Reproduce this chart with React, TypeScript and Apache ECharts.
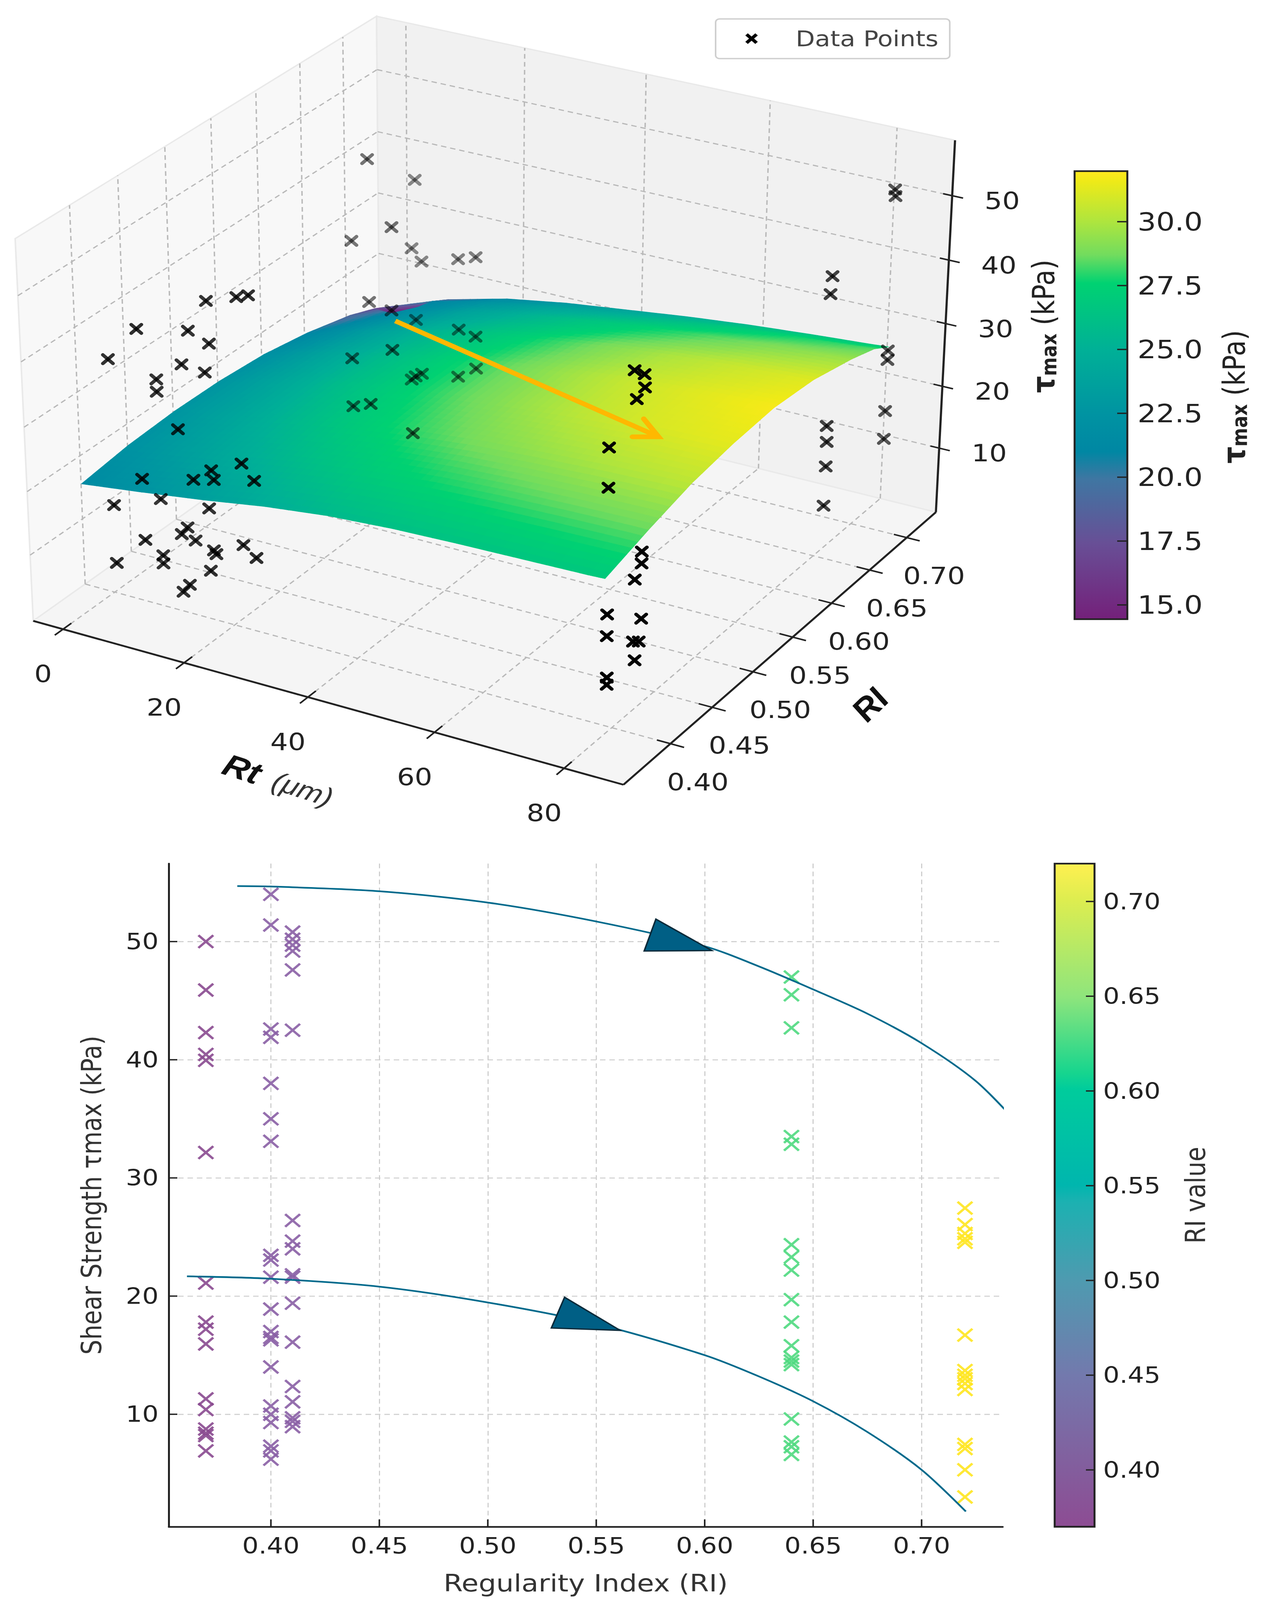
import React, { useEffect, useRef } from "react";
import * as echarts from "echarts";

const FONT = "DejaVu Sans";
const tau37 = [50.0,45.9,42.3,40.45,39.95,32.15,21.1,17.8,17.2,15.95,11.3,10.4,8.75,8.4,8.2,6.9];
const tau40 = [54.0,51.4,42.6,41.9,38.0,35.0,33.1,23.45,23.05,21.6,18.9,17.0,16.5,16.3,14.0,10.7,10.0,9.3,7.3,6.9,6.2];
const tau41 = [50.8,50.2,49.7,49.2,47.6,42.5,26.4,24.65,24.0,21.8,21.6,19.4,16.1,12.35,11.05,9.7,9.4,8.95];
const tau64 = [47.0,45.5,42.7,33.5,32.85,24.35,23.3,22.2,19.7,17.8,15.8,14.8,14.5,14.2,9.6,7.65,7.25,6.6];
const tau72 = [27.45,26.05,25.3,24.85,24.55,16.7,13.7,13.3,13.0,12.6,12.1,7.45,7.1,5.3,3.0];
const upperCurve = [[0.3845,54.7],[0.40,54.66],[0.45,54.26],[0.50,53.3],[0.55,51.7],[0.60,49.6],[0.625,47.9],[0.65,45.95],[0.675,43.9],[0.70,41.4],[0.725,38.2],[0.7434,34.8]];
const lowerCurve = [[0.3613,21.67],[0.40,21.47],[0.45,20.8],[0.50,19.46],[0.55,17.65],[0.60,15.0],[0.625,13.2],[0.65,11.1],[0.675,8.5],[0.70,5.3],[0.7204,1.77]];
const arrowHeads = [[0.5775,51.9,0.5721,49.2,0.6033,49.24],[0.5354,19.9,0.5293,17.3,0.561,17.1]];
const riTicks = [0.40,0.45,0.50,0.55,0.60,0.65,0.70];
const shearTicks = [10,20,30,40,50];
const rtTicks = [0,20,40,60,80];
const tauBarTicks = [15,17.5,20,22.5,25,27.5,30];

// Data points of the 3D panel: [Rt, tau] per RI level
const pts37 = [[10.0,46.1],[5.2,40.4],[10.1,23.2],[5.3,17.9],[10.3,13.7],[5.4,8.8],[82.8,45.9],[82.8,40.0],[82.9,21.1],[82.9,17.8],[83.0,11.5],[83.0,10.4]];
const pts40 = [[13.6,43.8],[12.4,38.4],[8.2,35.1],[8.2,33.2],[11.5,28.2],[13.8,20.9],[8.3,16.5],[12.6,13.1],[11.6,11.8],[8.4,7.6],[8.4,6.3],[12.7,4.0],[11.6,2.6],[82.5,54.1],[82.9,50.0],[83.1,23.2],[83.0,13.7],[83.3,10.9]];
const pts41 = [[15.1,47.7],[20.0,49.4],[21.9,50.1],[15.4,41.3],[14.6,36.7],[15.2,21.7],[15.6,20.3],[20.2,24.0],[22.2,21.8],[14.7,15.6],[12.3,9.9],[15.3,9.1],[15.7,8.6],[20.2,11.2],[22.3,9.7],[14.7,5.7],[82.7,52.6],[82.8,50.7],[82.8,26.3],[82.8,24.5],[82.9,16.1],[82.6,12.5]];
const pts64 = [[7.6,47.0],[11.6,37.1],[4.8,33.4],[7.7,24.2],[11.5,23.7],[11.6,17.3],[4.7,14.3],[4.8,6.4],[7.8,7.5],[15.0,4.4],[82.5,45.3],[82.3,42.5],[82.5,22.0],[82.6,19.5],[82.6,15.6],[82.5,9.3]];
const pts72 = [[4.2,35.9],[3.6,24.6],[5.3,22.8],[11.6,24.6],[14.6,25.6],[4.3,12.9],[11.7,13.0],[14.6,12.5],[14.7,7.2],[11.6,5.1],[5.3,4.1],[4.2,3.4],[3.5,2.7],[82.4,51.3],[82.5,50.3],[82.4,26.1],[82.4,24.6],[82.4,16.4],[82.4,11.9]];

// Fitted surface: rows Rt, columns RI
const rtGrid = [0,10,20,30,40,50,60,70,80,82.5];
const riGrid = [0.37,0.42,0.47,0.52,0.57,0.62,0.67,0.70,0.72];
const surfaceTau = [
 [19.9,20.9,21.3,21.2,20.6,19.3,17.4,15.7,13.1],
 [21.1,22.4,23.0,23.2,22.9,22.0,20.4,19.2,17.6],
 [22.4,24.0,24.9,25.3,25.1,24.3,22.7,21.3,20.0],
 [23.9,25.5,26.6,27.0,26.9,26.1,24.4,22.9,21.6],
 [25.0,26.7,27.9,28.4,28.4,27.6,25.9,24.1,22.8],
 [25.6,27.5,28.9,29.5,29.6,28.9,27.1,25.3,24.0],
 [25.9,28.0,29.5,30.4,30.6,29.9,28.1,26.5,25.0],
 [26.1,28.3,30.0,31.0,31.2,30.6,28.9,27.4,25.8],
 [26.3,28.5,30.3,31.3,31.7,31.1,29.5,28.1,26.5],
 [26.4,28.5,30.3,31.3,31.8,31.2,29.6,28.3,26.7],
];
const RANGE = { x:[-5,89], y:[0.345,0.74], z:[-0.5,58.5] };
const CORNERS = [[0,0,0,83,1864],[1,0,0,1596,2358],[1,1,0,2395,1537],[0,1,0,975,1128],[0,0,1,41,717],[0,1,1,961,48],[1,1,1,2446,422]];
const X_MIN=0.3529, X_MAX=0.7374, Y_MIN=0.48, Y_MAX=56.6;

function solveLinear(A:number[][], b:number[]) {
  const n=b.length; const M=A.map((r,i)=>[...r,b[i]]);
  for(let i=0;i<n;i++){ let m=i; for(let k=i+1;k<n;k++) if(Math.abs(M[k][i])>Math.abs(M[m][i])) m=k; [M[i],M[m]]=[M[m],M[i]];
    for(let k=0;k<n;k++){ if(k===i) continue; const f=M[k][i]/M[i][i]; for(let j=i;j<=n;j++) M[k][j]-=f*M[i][j]; } }
  return M.map((r,i)=>r[n]/r[i]);
}
function fitProjection(){
  const rows:number[][]=[]; const rhs:number[]=[];
  for(const [X,Y,W,sx,sy] of CORNERS){
    rows.push([X,Y,W,1,0,0,0,0,-sx*X,-sx*Y,-sx*W]); rhs.push(sx);
    rows.push([0,0,0,0,X,Y,W,1,-sy*X,-sy*Y,-sy*W]); rhs.push(sy);
  }
  const n=11; const A=Array.from({length:n},()=>new Array(n).fill(0)); const b=new Array(n).fill(0);
  rows.forEach((r,k)=>{ for(let i=0;i<n;i++){ b[i]+=r[i]*rhs[k]; for(let j=0;j<n;j++) A[i][j]+=r[i]*r[j]; } });
  return solveLinear(A,b);
}
const P = fitProjection();
const pn=(X:number,Y:number,W:number)=>{ const d=P[8]*X+P[9]*Y+P[10]*W+1; return [(P[0]*X+P[1]*Y+P[2]*W+P[3])/d,(P[4]*X+P[5]*Y+P[6]*W+P[7])/d]; };
const nx=(v:number)=>(v-RANGE.x[0])/(RANGE.x[1]-RANGE.x[0]);
const ny=(v:number)=>(v-RANGE.y[0])/(RANGE.y[1]-RANGE.y[0]);
const nz=(v:number)=>(v-RANGE.z[0])/(RANGE.z[1]-RANGE.z[0]);
const proj=(a:number,b:number,c:number)=>pn(nx(a),ny(b),nz(c));
const points3d:number[][]=[];
([[0.37,pts37],[0.40,pts40],[0.41,pts41],[0.64,pts64],[0.72,pts72]] as [number,number[][]][]).forEach(([ri,list])=>list.forEach(([rt,t])=>points3d.push([rt,ri,t])));

const hex=(h:string)=>[parseInt(h.slice(1,3),16),parseInt(h.slice(3,5),16),parseInt(h.slice(5,7),16)];
const topStops:[number,string][]=[[0,"#74207a"],[0.17,"#684f96"],[0.313,"#3f76a2"],[0.374,"#0087a3"],[0.456,"#0093a2"],[0.6,"#00b097"],[0.75,"#00d272"],[0.813,"#72dc5e"],[0.887,"#aee53e"],[0.977,"#eeea18"],[1,"#ffe81e"]];
const riStops:[number,string][]=[[0,"#8d4c93"],[0.228,"#7379ad"],[0.37,"#4f9ab0"],[0.49,"#1cb1b1"],[0.515,"#00b6ae"],[0.66,"#00cc9c"],[0.685,"#17d58e"],[0.8,"#8fe57c"],[0.945,"#dded50"],[1,"#fff050"]];
const TAU_MIN=14.44, TAU_MAX=31.98;
function sample(stops:[number,string][],t:number){ t=Math.max(0,Math.min(1,t)); for(let i=1;i<stops.length;i++){ if(t<=stops[i][0]){ const [a,ca]=stops[i-1],[b,cb]=stops[i]; const f=(t-a)/(b-a); const A=hex(ca),B=hex(cb); return `rgb(${A.map((v,k)=>Math.round(v+(B[k]-v)*f)).join(",")})`; } } return stops[stops.length-1][1]; }
const SUB=8;
const surfaceCells:number[][]=[];
for(let i=0;i<rtGrid.length-1;i++) for(let j=0;j<riGrid.length-1;j++) for(let a=0;a<SUB;a++) for(let b=0;b<SUB;b++) surfaceCells.push([i,j,a,b]);
const surfAt=(i:number,j:number,u:number,v:number)=>{const r=rtGrid[i]+(rtGrid[i+1]-rtGrid[i])*u;const s=riGrid[j]+(riGrid[j+1]-riGrid[j])*v;const t=surfaceTau[i][j]*(1-u)*(1-v)+surfaceTau[i+1][j]*u*(1-v)+surfaceTau[i+1][j+1]*u*v+surfaceTau[i][j+1]*(1-u)*v;return [r,s,t];};
// The reference's facets read a little warmer than their height at the low end.
const facetValue=(z:number)=>z+1.5*Math.max(0,Math.min(1,(29-z)/9));

const GRID_STYLE={stroke:"#b8b8b8",lineWidth:3.5,lineDash:[14,10]};
const line3=(a:number[],b:number[],style:any)=>({type:"line",shape:{x1:a[0],y1:a[1],x2:b[0],y2:b[1]},style});
const poly=(pts:number[][],fill:string)=>({type:"polygon",shape:{points:pts},style:{fill,stroke:"#e9e9e9",lineWidth:4}});
function boxChildren(){
  const ch:any[]=[];
  ch.push(poly([pn(0,0,0),pn(0,1,0),pn(0,1,1),pn(0,0,1)],"#f8f8f8"));
  ch.push(poly([pn(0,1,0),pn(1,1,0),pn(1,1,1),pn(0,1,1)],"#f1f1f1"));
  ch.push(poly([pn(0,0,0),pn(1,0,0),pn(1,1,0),pn(0,1,0)],"#f5f5f5"));
  for(const t of rtTicks){const X=nx(t);ch.push(line3(pn(X,0,0),pn(X,1,0),GRID_STYLE));ch.push(line3(pn(X,1,0),pn(X,1,1),GRID_STYLE));}
  for(const t of riTicks){const Y=ny(t);ch.push(line3(pn(0,Y,0),pn(1,Y,0),GRID_STYLE));ch.push(line3(pn(0,Y,0),pn(0,Y,1),GRID_STYLE));}
  for(const t of shearTicks){const W=nz(t);ch.push(line3(pn(0,0,W),pn(0,1,W),GRID_STYLE));ch.push(line3(pn(0,1,W),pn(1,1,W),GRID_STYLE));}
  const ax={stroke:"#222",lineWidth:5.5};const tk={stroke:"#222",lineWidth:4.5};
  ch.push(line3(pn(0,0,0),pn(1,0,0),ax),line3(pn(1,0,0),pn(1,1,0),ax),line3(pn(1,1,0),pn(1,1,1),ax));
  const text=(s:string,p:number[],dx:number,dy:number)=>({type:"text",x:p[0]+dx,y:p[1]+dy,style:{text:s,fill:"#222",font:`71px '${FONT}'`,align:"center",verticalAlign:"middle"}});
  for(const t of rtTicks){const X=nx(t);ch.push(line3(pn(X,-0.022,0),pn(X,0.022,0),tk));ch.push(text(String(t),pn(X,0,0),-51,135));}
  for(const t of riTicks){const Y=ny(t);ch.push(line3(pn(0.978,Y,0),pn(1.022,Y,0),tk));ch.push(text(t.toFixed(2),pn(1,Y,0),70,115));}
  for(const t of shearTicks){const W=nz(t);ch.push(line3(pn(0.985,1,W),pn(1.018,1,W),tk));ch.push(text(String(t),pn(1,1,W),128,16));}
  return ch;
}
const RICOLORS:any={0.37:"#8a4a90",0.40:"#8a5fa5",0.41:"#8a5fa5",0.64:"#4fd97f",0.72:"#ffe620"};
const X_ICON="path://M0 0L10 10M10 0L0 10";
const tauTitle=(x:number,y:number)=>({type:"text",z:100,x,y,rotation:Math.PI/2,style:{text:"{a|τ}{b|max}{c| (kPa)}",align:"center",verticalAlign:"middle",rich:{a:{font:`bold 80px '${FONT}'`,fill:"#222"},b:{font:`bold 54px '${FONT}'`,fill:"#222",verticalAlign:"bottom"},c:{font:`78px '${FONT}'`,fill:"#222"}}}});
const barSeries=(axisIndex:number,lo:number,hi:number,stops:[number,string][],ticks:number[],len:number)=>({type:"custom",xAxisIndex:axisIndex,yAxisIndex:axisIndex,z:5,silent:true,clip:false,data:[[0,lo,1,hi]],renderItem:(_:any,api:any)=>{
  const a=api.coord([api.value(0),api.value(3)]),b=api.coord([api.value(2),api.value(1)]);
  const tickLines=ticks.map(t=>{const p=api.coord([1,t]);return line3([p[0]-len,p[1]],[p[0],p[1]],{stroke:"#222",lineWidth:4});});
  return {type:"group",children:[{type:"rect",shape:{x:a[0],y:a[1],width:b[0]-a[0],height:b[1]-a[1]},style:{fill:new echarts.graphic.LinearGradient(0,1,0,0,stops.map(([offset,color])=>({offset,color}))),stroke:"#222",lineWidth:5}},...tickLines]};
}});

export default function App(){
  const ref=useRef<HTMLDivElement>(null);
  // The chart is laid out at 3241x4806; if the window is shorter, fit its height so that nothing is cut off.
  const fit=typeof window!=="undefined"?Math.min(1,window.innerHeight/4806):1;
  useEffect(()=>{
    document.body.style.margin="0";
    document.body.style.overflow="hidden";
    const chart=echarts.init(ref.current!,undefined,{renderer:"svg"});
    const ratioSeries=(ri:number,vals:number[])=>({type:"scatter",xAxisIndex:0,yAxisIndex:0,data:vals.map(v=>[ri,v]),symbol:X_ICON,symbolSize:38,z:3,itemStyle:{color:"transparent",borderColor:RICOLORS[ri],borderWidth:6.5,opacity:0.9}});
    const option:any={
      animation:false,backgroundColor:"#fff",
      legend:{show:true,left:1832,top:57,selectedMode:false,data:[{name:"Data Points",icon:"path://M2 0L5 3L8 0L10 2L7 5L10 8L8 10L5 7L2 10L0 8L3 5L0 2Z",itemStyle:{color:"#000",borderWidth:0}}],itemWidth:32,itemHeight:32,padding:[27,29,28,76],backgroundColor:"#fff",borderColor:"#cfcfcf",borderWidth:4,borderRadius:10,textStyle:{fontFamily:FONT,fontSize:64,color:"#444",padding:[0,0,0,92]}},
      grid:[
        {left:432,top:2594,width:2135,height:1992},
        {left:2700,top:2594,width:102,height:1992},
        {left:2751,top:514,width:135,height:1346},
      ],
      xAxis:[
        {type:"value",gridIndex:0,min:X_MIN,max:X_MAX,name:"Regularity Index (RI)",nameLocation:"middle",nameGap:134,nameTextStyle:{fontFamily:FONT,fontSize:71,color:"#333"},
         axisLine:{show:true,onZero:false,lineStyle:{color:"#222",width:5}},axisTick:{show:false,customValues:riTicks},axisLabel:{show:true,customValues:riTicks,formatter:(v:number)=>v.toFixed(2),fontFamily:FONT,fontSize:66,color:"#222",margin:24},splitLine:{show:true,lineStyle:{type:[14,10],color:"#cfcfcf",width:3}}},
        {type:"value",gridIndex:1,min:0,max:1,show:false},
        {type:"value",gridIndex:2,min:0,max:1,show:false},
      ],
      yAxis:[
        {type:"value",gridIndex:0,min:Y_MIN,max:Y_MAX,name:"Shear Strength τmax (kPa)",nameLocation:"middle",nameGap:162,nameTextStyle:{fontFamily:FONT,fontSize:71,color:"#333"},
         axisLine:{show:true,onZero:false,lineStyle:{color:"#222",width:5}},axisTick:{show:false,customValues:shearTicks},axisLabel:{show:true,customValues:shearTicks,fontFamily:FONT,fontSize:66,color:"#222",margin:26},splitLine:{show:true,lineStyle:{type:[14,10],color:"#cfcfcf",width:3}}},
        {type:"value",gridIndex:1,position:"right",min:0.37,max:0.72,name:"RI value",nameLocation:"middle",nameRotate:90,nameGap:222,nameTextStyle:{fontFamily:FONT,fontSize:72,color:"#333"},
         axisLine:{show:false},axisTick:{show:false},axisLabel:{show:true,customValues:riTicks,formatter:(v:number)=>v.toFixed(2),fontFamily:FONT,fontSize:66,color:"#222",margin:22},splitLine:{show:false}},
        {type:"value",gridIndex:2,position:"right",min:TAU_MIN,max:TAU_MAX,
         axisLine:{show:false},axisTick:{show:false},axisLabel:{show:true,customValues:tauBarTicks,formatter:(v:number)=>v.toFixed(1),fontFamily:FONT,fontSize:75,color:"#222",margin:26},splitLine:{show:false}},
      ],
      graphic:[
        {type:"polyline",z:100,shape:{points:[[1012,964],[1682,1310]]},style:{stroke:"#ffb800",lineWidth:14,fill:"none"}},
        {type:"polyline",z:100,shape:{points:[[1648,1258],[1686,1312],[1619,1312]]},style:{stroke:"#ffb800",lineWidth:14,fill:"none",lineCap:"round"}},
        {type:"text",z:100,x:620,y:2310,rotation:-0.36,style:{text:"Rt",fill:"#111",font:"italic bold 92px 'Liberation Sans'",align:"center",verticalAlign:"middle"}},
        {type:"text",z:100,x:775,y:2370,rotation:-0.36,style:{text:"(μm)",fill:"#333",font:"italic 78px 'Liberation Sans'",align:"center",verticalAlign:"middle"}},
        {type:"text",z:100,x:2227,y:2117,rotation:0.85,style:{text:"RI",fill:"#111",font:"italic bold 92px 'Liberation Sans'",align:"center",verticalAlign:"middle"}},
        tauTitle(2672,980),
        tauTitle(3160,1192),
      ],
      series:[
        {type:"custom",coordinateSystem:"none",z:1,silent:true,data:[[0]],renderItem:()=>({type:"group",children:boxChildren()})},
        {type:"custom",coordinateSystem:"none",z:2,silent:true,data:surfaceCells,renderItem:(_:any,api:any)=>{
          const i=api.value(0),j=api.value(1),a=api.value(2),b=api.value(3);
          const c=[[a,b],[a+1,b],[a+1,b+1],[a,b+1]].map(([p,q])=>surfAt(i,j,p/SUB,q/SUB));
          const m=surfAt(i,j,(a+.5)/SUB,(b+.5)/SUB);
          const col=sample(topStops,(facetValue(m[2])-TAU_MIN)/(TAU_MAX-TAU_MIN));
          return {type:"polygon",shape:{points:c.map(v=>proj(v[0],v[1],v[2]))},style:{fill:col,stroke:col,lineWidth:1.5}};
        }},
        {name:"Data Points",type:"custom",coordinateSystem:"none",z:3,silent:true,itemStyle:{color:"#000"},data:points3d,renderItem:(_:any,api:any)=>{
          const a=api.value(0),b=api.value(1),c=api.value(2);
          const p=proj(a,b,c);const op=Math.max(0.4,Math.min(1,0.8+0.25*nx(a)-0.4*ny(b)));
          const s=13;const st={stroke:"#000",lineWidth:9.5,lineCap:"round",opacity:op};
          return {type:"group",children:[line3([p[0]-s,p[1]-s],[p[0]+s,p[1]+s],st),line3([p[0]-s,p[1]+s],[p[0]+s,p[1]-s],st)]};
        }},
        ratioSeries(0.37,tau37),ratioSeries(0.40,tau40),ratioSeries(0.41,tau41),ratioSeries(0.64,tau64),ratioSeries(0.72,tau72),
        {type:"line",xAxisIndex:0,yAxisIndex:0,data:upperCurve,smooth:0.3,showSymbol:false,clip:false,z:4,lineStyle:{color:"#006a8c",width:5}},
        {type:"line",xAxisIndex:0,yAxisIndex:0,data:lowerCurve,smooth:0.3,showSymbol:false,clip:false,z:4,lineStyle:{color:"#006a8c",width:5}},
        {type:"custom",xAxisIndex:0,yAxisIndex:0,z:5,clip:false,silent:true,data:arrowHeads,renderItem:(_:any,api:any)=>({type:"polygon",shape:{points:[0,2,4].map(k=>api.coord([api.value(k),api.value(k+1)]))},style:{fill:"#005f85",stroke:"#0a2a3a",lineWidth:4}})},
        {type:"custom",xAxisIndex:0,yAxisIndex:0,z:5,clip:false,silent:true,data:[[0]],renderItem:(_:any,api:any)=>{
          const st={stroke:"#222",lineWidth:4};
          const xt=riTicks.map(t=>{const p=api.coord([t,Y_MIN]);return line3(p,[p[0],p[1]-22],st);});
          const yt=shearTicks.map(t=>{const p=api.coord([X_MIN,t]);return line3(p,[p[0]+22,p[1]],st);});
          return {type:"group",children:[...xt,...yt]};
        }},
        barSeries(1,0.37,0.72,riStops,riTicks,22),
        barSeries(2,TAU_MIN,TAU_MAX,topStops,tauBarTicks,26),
      ],
    };
    chart.setOption(option);
    return ()=>chart.dispose();
  },[]);
  return <div ref={ref} style={{width:3241,height:4806,transform:`scale(1,${fit})`,transformOrigin:"0 0"}}/>;
}
